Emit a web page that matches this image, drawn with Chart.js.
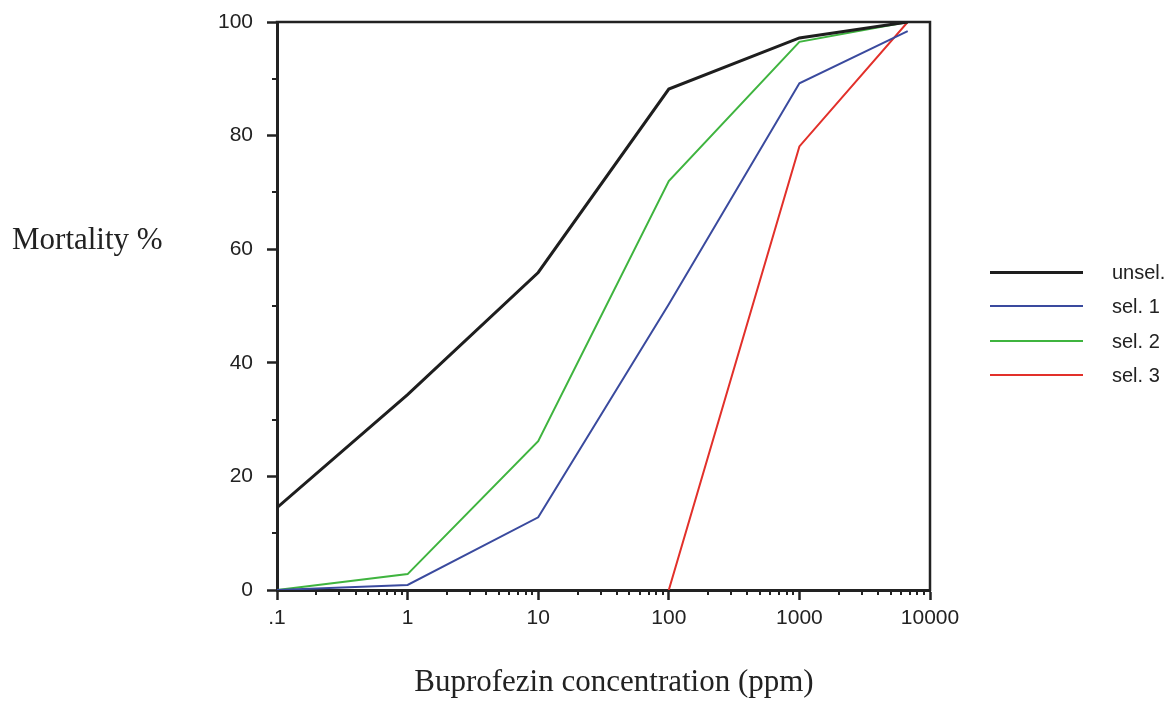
<!DOCTYPE html>
<html>
<head>
<meta charset="utf-8">
<script src="https://cdn.jsdelivr.net/npm/chart.js@4/dist/chart.umd.min.js"></script>
<style>
  html, body { margin: 0; padding: 0; background: #fff; }
  #wrap { position: relative; width: 1168px; height: 701px; overflow: hidden; }
  canvas { position: absolute; left: 0; top: 0; }
  .ytitle { position: absolute; left: 12px; top: 221px; font-family: "Liberation Serif", serif; font-size: 31px; color: #222; white-space: nowrap; }
  .xtitle { position: absolute; left: 0; width: 1228px; text-align: center; top: 663px; font-family: "Liberation Serif", serif; font-size: 31px; color: #222; white-space: nowrap; }
  .legend { position: absolute; left: 990px; top: 258px; font-family: "Liberation Sans", Arial, sans-serif; font-size: 20px; color: #222; }
  .legend .row { position: relative; height: 34.3px; }
  .legend .sw { position: absolute; left: 0; top: 13px; width: 93px; height: 2px; }
  .legend .lb { position: absolute; left: 122px; top: 0px; line-height: 28px; white-space: nowrap; }
</style>
</head>
<body>
<div id="wrap">
  <canvas id="c" width="1168" height="701"></canvas>
  <div class="ytitle">Mortality %</div>
  <div class="xtitle">Buprofezin concentration (ppm)</div>
  <div class="legend" id="legend"></div>
</div>
<script>
// ---- data ----
const concentrations = [0.1, 1, 10, 100, 1000, 6750];
const seriesNames = ["unsel.", "sel. 1", "sel. 2", "sel. 3"];
const unsel = [14.5, 34.4, 55.9, 88.2, 97.2, 100];
const sel1  = [0, 0.9, 12.8, 50.3, 89.2, 98.4];
const sel2  = [0, 2.8, 26.2, 72, 96.5, 100];
const sel3  = [null, null, null, 0, 78.1, 100];
const xTickValues = [0.1, 1, 10, 100, 1000, 10000];
const xTickLabels = [".1", "1", "10", "100", "1000", "10000"];
const yTickValues = [0, 20, 40, 60, 80, 100];
const yMinorValues = [10, 30, 50, 70, 90];

const seriesValues = [unsel, sel1, sel2, sel3];
const colors = ["#1e1e1e", "#3a4a9e", "#3fb43f", "#e2302a"];
const widths = [3, 2, 2, 2];

const datasets = seriesValues.map((vals, i) => ({
  label: seriesNames[i],
  data: concentrations.map((x, j) => (vals[j] === null ? null : { x: x, y: vals[j] })).filter(p => p !== null),
  borderColor: colors[i],
  backgroundColor: colors[i],
  borderWidth: widths[i],
  pointRadius: 0,
  tension: 0,
  fill: false
}));

// legend (HTML)
const lg = document.getElementById("legend");
seriesNames.forEach((n, i) => {
  const r = document.createElement("div"); r.className = "row";
  const s = document.createElement("div"); s.className = "sw"; s.style.background = colors[i];
  s.style.height = widths[i] + "px";
  const l = document.createElement("div"); l.className = "lb"; l.textContent = n;
  r.appendChild(s); r.appendChild(l); lg.appendChild(r);
});

const axisColor = "#222";

const framePlugin = {
  id: "frame",
  afterDraw(chart) {
    const { ctx, chartArea: a, scales } = chart;
    ctx.save();
    ctx.strokeStyle = axisColor;
    ctx.lineCap = "square";
    ctx.lineWidth = 2.5;
    ctx.beginPath();
    ctx.moveTo(a.left, a.top); ctx.lineTo(a.right, a.top); ctx.lineTo(a.right, a.bottom);
    ctx.stroke();
    ctx.lineWidth = 2;
    ctx.lineCap = "butt";
    yMinorValues.forEach(v => {
      const y = Math.round(scales.y.getPixelForValue(v));
      ctx.beginPath(); ctx.moveTo(a.left - 5, y); ctx.lineTo(a.left, y); ctx.stroke();
    });
    for (let d = 0; d < xTickValues.length - 1; d++) {
      for (let m = 2; m <= 9; m++) {
        const v = xTickValues[d] * m;
        const x = Math.round(scales.x.getPixelForValue(v));
        ctx.beginPath(); ctx.moveTo(x, a.bottom); ctx.lineTo(x, a.bottom + 5); ctx.stroke();
      }
    }
    ctx.restore();
  }
};

new Chart(document.getElementById("c"), {
  type: "line",
  data: { datasets },
  options: {
    responsive: false,
    animation: false,
    devicePixelRatio: 1,
    layout: { padding: { left: 0, top: 22, right: 238, bottom: 0 } },
    plugins: { legend: { display: false }, tooltip: { enabled: false } },
    scales: {
      x: {
        type: "logarithmic",
        min: 0.1, max: 10000,
        afterBuildTicks(scale) { scale.ticks = xTickValues.map(v => ({ value: v, major: true })); },
        afterFit(scale) { scale.height = 111; scale.paddingLeft = 0; scale.paddingRight = 0; },
        ticks: {
          autoSkip: false, maxRotation: 0,
          padding: 6,
          color: "#222",
          font: { family: "Liberation Sans", size: 21 },
          callback(value) { const i = xTickValues.indexOf(value); return i >= 0 ? xTickLabels[i] : ""; }
        },
        grid: { display: true, drawOnChartArea: false, drawTicks: true, tickLength: 10, tickColor: axisColor, tickWidth: 2.5 },
        border: { display: true, color: axisColor, width: 3 }
      },
      y: {
        min: 0, max: 100,
        afterBuildTicks(scale) { scale.ticks = yTickValues.map(v => ({ value: v })); },
        afterFit(scale) { scale.width = 277; scale.paddingTop = 0; scale.paddingBottom = 0; },
        ticks: {
          padding: 14,
          color: "#222",
          font: { family: "Liberation Sans", size: 21 }
        },
        grid: { display: true, drawOnChartArea: false, drawTicks: true, tickLength: 10, tickColor: axisColor, tickWidth: 2.5 },
        border: { display: true, color: axisColor, width: 3 }
      }
    }
  },
  plugins: [framePlugin]
});
</script>
</body>
</html>
